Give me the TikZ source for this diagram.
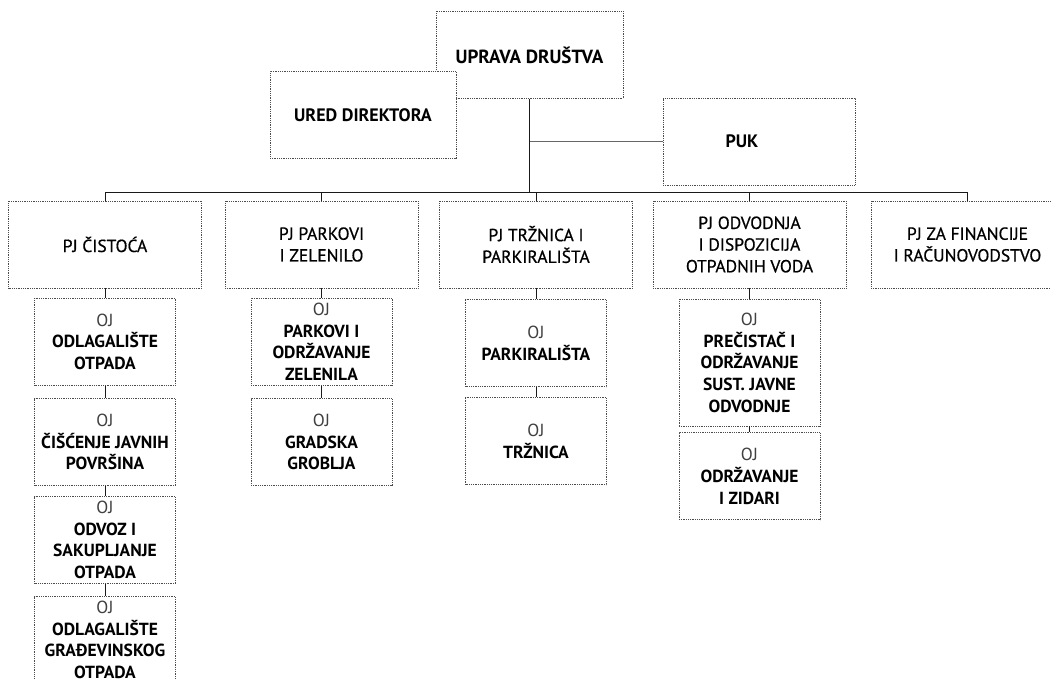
\documentclass[tikz,border=0pt]{standalone}
\usepackage{fontspec}
\setmainfont{PT Sans}
\newfontfamily\pjfont{PT Sans}[FakeBold=0.6]
\newcommand{\ojtag}{{\mdseries\color{black!75}OJ}}
\begin{document}
\begin{tikzpicture}[x=1pt,y=-1pt,
  box/.style={draw=black!70, fill=white, densely dotted, line width=0.8pt, align=center, inner sep=0pt,
    font=\fontsize{17.5}{21.7}\selectfont, text=black},
  pjbox/.style={box, minimum width=193, minimum height=87, font=\fontsize{17.5}{21.7}\pjfont},
  ojbox/.style={box, minimum width=141, minimum height=87, font=\fontsize{17.5}{21.7}\selectfont\bfseries},
  link/.style={draw=black!90, line width=0.9pt}]
  \useasboundingbox (0,0) rectangle (1051,679);
  % top
  \node[box, minimum width=187, minimum height=87, font=\fontsize{19}{21}\selectfont\bfseries] (uprava) at (529.5,55) {UPRAVA DRUŠTVA};
  \node[box, minimum width=186, minimum height=87, font=\fontsize{18}{21}\selectfont\bfseries] (ured) at (363,115) {URED DIREKTORA};
  \node[box, minimum width=192, minimum height=87, font=\fontsize{18}{21}\selectfont\bfseries] (puk) at (759,141.5) {PUK\hspace*{34pt}};
  % PJ
  \node[pjbox] (pjcistoca) at (105,244.5) {PJ ČISTOĆA};
  \node[pjbox] (pjparkovi) at (321.5,244.5) {PJ PARKOVI\\I ZELENILO};
  \node[pjbox] (pjtrznica) at (536,244.5) {PJ TRŽNICA I\\PARKIRALIŠTA};
  \node[pjbox] (pjodvodnja) at (749.5,244.5) {PJ ODVODNJA\\I DISPOZICIJA\\OTPADNIH VODA};
  \node[pjbox] (pjfinancije) at (967.5,244.5) {PJ ZA FINANCIJE\\I RAČUNOVODSTVO};
  % OJ
  \node[ojbox] (ojodlagaliste) at (105,341.7) {\ojtag\\ODLAGALIŠTE\\OTPADA};
  \node[ojbox] (ojciscenje) at (105,442) {\ojtag\\ČIŠĆENJE JAVNIH\\POVRŠINA};
  \node[ojbox] (ojodvoz) at (105,540) {\ojtag\\ODVOZ I\\SAKUPLJANJE\\OTPADA};
  \node[ojbox] (ojgradjevinski) at (105,640) {\ojtag\\ODLAGALIŠTE\\GRAĐEVINSKOG\\OTPADA};
  \node[ojbox] (ojparkovi) at (321.5,341.7) {\ojtag\\PARKOVI I\\ODRŽAVANJE\\ZELENILA};
  \node[ojbox] (ojgroblja) at (321.5,442) {\ojtag\\GRADSKA\\GROBLJA};
  \node[ojbox] (ojparkiralista) at (536,343.3) {\ojtag\\PARKIRALIŠTA};
  \node[ojbox] (ojtrznica) at (536,441.2) {\ojtag\\TRŽNICA};
  \node[ojbox, minimum height=126.7] (ojprecistac) at (749.5,362.7) {\ojtag\\PREČISTAČ I\\ODRŽAVANJE\\SUST. JAVNE\\ODVODNJE};
  \node[ojbox] (ojzidari) at (749.5,476.3) {\ojtag\\ODRŽAVANJE\\I ZIDARI};
  % links
  \coordinate (bus) at (529.5,192.5);
  \draw[link] (uprava) -- (bus);
  \draw[link, draw=black!60] (uprava.south |- puk.west) -- (puk);
  \draw[link] (pjcistoca) |- (bus) -| (pjfinancije);
  \foreach \n in {pjparkovi,pjtrznica,pjodvodnja}
    \draw[link] (\n) -- (\n.north |- bus);
  \draw[link] (pjcistoca) -- (ojodlagaliste) -- (ojciscenje) -- (ojodvoz) -- (ojgradjevinski);
  \draw[link] (pjparkovi) -- (ojparkovi) -- (ojgroblja);
  \draw[link] (pjtrznica) -- (ojparkiralista) -- (ojtrznica);
  \draw[link] (pjodvodnja) -- (ojprecistac) -- (ojzidari);
\end{tikzpicture}
\end{document}
